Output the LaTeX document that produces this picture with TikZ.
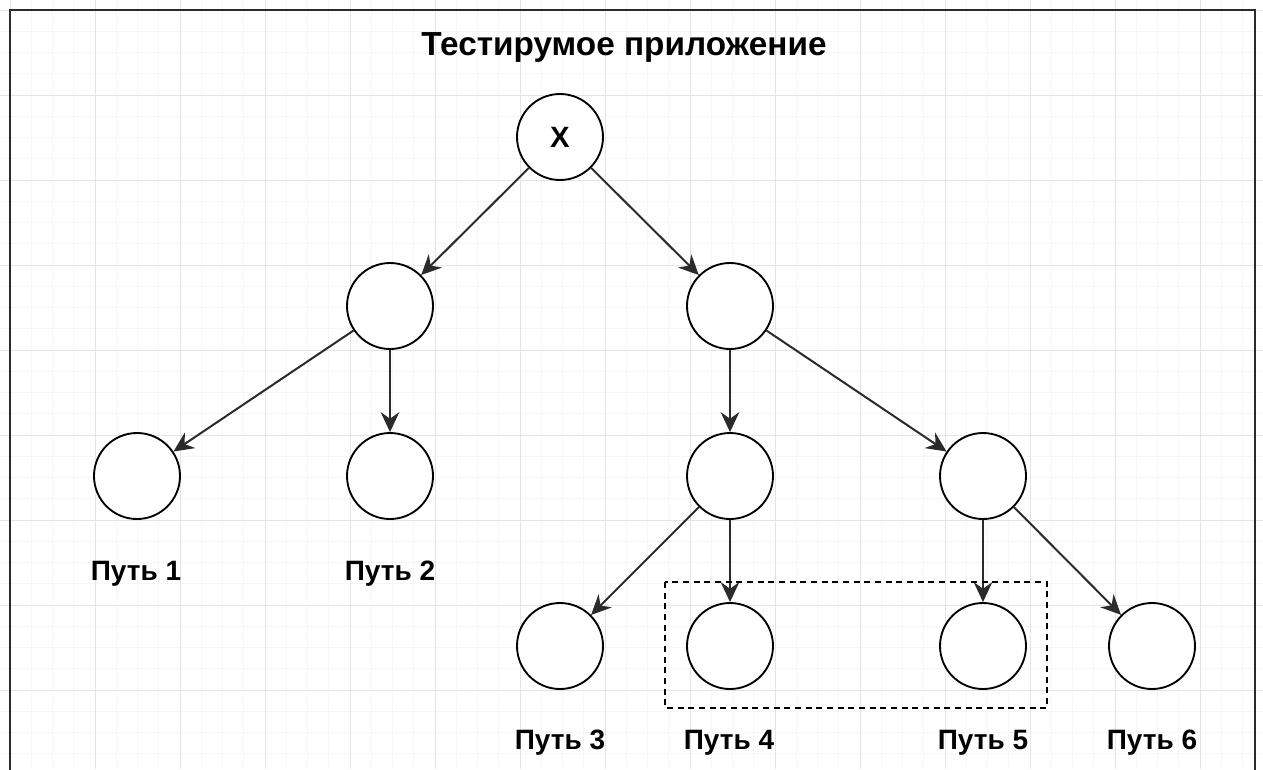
\documentclass[tikz,border=0pt]{standalone}
\usepackage{fontspec}
\setmainfont{Liberation Sans}
\usetikzlibrary{arrows.meta}
\definecolor{gridminor}{HTML}{F6F6F6}
\definecolor{gridmajor}{HTML}{E4E4E4}
\definecolor{edgecol}{HTML}{2B2B2B}
\tikzset{
  vertex/.style={circle, draw=black, line width=1.4pt, fill=white, inner sep=0pt, minimum size=64.5pt, font=\bfseries\fontsize{22}{25}\selectfont},
  edge/.style={draw=edgecol, line width=1.5pt, -{Stealth[length=15pt, width=14pt, inset=5pt]}},
  pathlabel/.style={font=\bfseries\fontsize{21}{24}\selectfont, inner sep=0pt, anchor=base},
  titlelabel/.style={font=\bfseries\fontsize{25}{29}\selectfont, inner sep=0pt, anchor=base},
  frame/.style={draw=edgecol, line width=1.6pt},
  groupbox/.style={draw=black, line width=1.2pt, dash pattern=on 4.5pt off 3.5pt}
}
\begin{document}
\begin{tikzpicture}[x=0.75pt, y=-0.75pt]
\useasboundingbox (0,0) rectangle (1263,769);
\fill[white] (0,0) rectangle (1263,769);
% background grid
\begin{scope}
  \clip (0,0) rectangle (1263,769);
  \foreach \i in {0,...,60} {
    \pgfmathsetmacro{\p}{10+21.25*\i}
    \draw[gridminor, line width=0.75pt] (\p,0) -- (\p,769);
    \draw[gridminor, line width=0.75pt] (0,\p) -- (1263,\p);
  }
  \foreach \i in {0,...,15} {
    \pgfmathsetmacro{\p}{10+85*\i}
    \draw[gridmajor, line width=0.75pt] (\p,0) -- (\p,769);
    \draw[gridmajor, line width=0.75pt] (0,\p) -- (1263,\p);
  }
\end{scope}
% outer frame (open at the bottom)
\draw[frame] (10,780) -- (10,10) -- (1255,10) -- (1255,780);
% title
\node[titlelabel] (title) at (624,55) {Тестирумое приложение};
% tree nodes
\node[vertex] (x) at (560,137) {X};
\node[vertex] (a) at (390,306) {};
\node[vertex] (b) at (730,306) {};
\node[vertex] (c1) at (137,476) {};
\node[vertex] (c2) at (390,476) {};
\node[vertex] (c3) at (730,476) {};
\node[vertex] (c4) at (983,476) {};
\node[vertex] (d1) at (560,646) {};
\node[vertex] (d2) at (730,646) {};
\node[vertex] (d3) at (983,646) {};
\node[vertex] (d4) at (1152,646) {};
% edges
\draw[edge] (x) -- (a);
\draw[edge] (x) -- (b);
\draw[edge] (a) -- (c1);
\draw[edge] (a) -- (c2);
\draw[edge] (b) -- (c3);
\draw[edge] (b) -- (c4);
\draw[edge] (c3) -- (d1);
\draw[edge] (c3) -- (d2);
\draw[edge] (c4) -- (d3);
\draw[edge] (c4) -- (d4);
% dashed group around paths 4 and 5
\draw[groupbox] (665,582) rectangle (1047,708);
% path labels
\node[pathlabel] (p1) at (136,580) {Путь 1};
\node[pathlabel] (p2) at (390,580) {Путь 2};
\node[pathlabel] (p3) at (560,749) {Путь 3};
\node[pathlabel] (p4) at (729,749) {Путь 4};
\node[pathlabel] (p5) at (983,749) {Путь 5};
\node[pathlabel] (p6) at (1152,749) {Путь 6};
\end{tikzpicture}
\end{document}
